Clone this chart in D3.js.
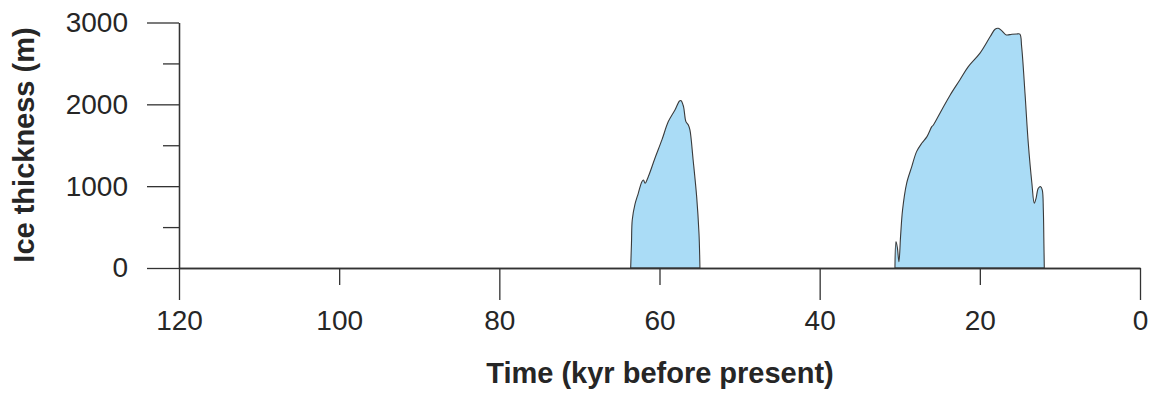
<!DOCTYPE html>
<html>
<head>
<meta charset="utf-8">
<script src="https://cdn.jsdelivr.net/npm/d3@7"></script>
<style>
  body { margin: 0; background: #fff; }
  text { font-family: "Liberation Sans", Arial, sans-serif; fill: #262626; }
</style>
</head>
<body>
<div id="chart"></div>
<script>
const width = 1149;
const height = 395;

// first ice advance (kyr BP, ice thickness m)
const advance1Time = [63.6, 63.5, 63.4, 63.06, 62.65, 62.2, 62.0, 61.8, 61.4, 60.57, 59.7, 58.9, 58.07, 57.5, 57.3, 57.0, 56.7, 56.4, 56.2, 55.8, 55.36, 55.07, 54.95];
const advance1Ice = [0, 300, 590, 780, 913, 1055, 1076, 1035, 1116, 1341, 1565, 1789, 1931, 2041, 2045, 1972, 1789, 1748, 1687, 1320, 872, 424, 0];

// second ice advance
const advance2Time = [30.6, 30.47, 30.3, 30.1, 29.9, 29.65, 29.14, 28.5, 27.9, 27.26, 26.6, 26.0, 25.8, 24.76, 23.7, 22.5, 21.44, 19.98, 18.7, 18.1, 17.7, 17.27, 16.7, 16.0, 15.4, 15.0, 14.78, 14.36, 13.95, 13.5, 13.2, 12.98, 12.7, 12.4, 12.2, 12.07, 12.0, 11.95];
const advance2Ice = [0, 322, 250, 77, 383, 709, 1035, 1239, 1422, 1524, 1605, 1727, 1748, 1931, 2115, 2298, 2461, 2625, 2828, 2918, 2930, 2901, 2848, 2857, 2860, 2857, 2705, 2135, 1524, 1035, 791, 852, 974, 994, 953, 709, 302, 0];

const yMajorTicks = [0, 1000, 2000, 3000];
const yMinorTicks = [500, 1500, 2500];
const xMajorTicks = [120, 80, 40, 0];
const xMinorTicks = [100, 60, 20];

const svg = d3.select('#chart')
    .append('svg')
    .attr('width', width)
    .attr('height', height);

const x = d3.scaleLinear().domain([120, 0]).range([179, 1140]);
const y = d3.scaleLinear().domain([0, 3000]).range([268, 22.5]);

// ice areas
const area = d3.area()
    .x(d => x(d[0]))
    .y0(y(0))
    .y1(d => y(d[1]))
    .curve(d3.curveCatmullRom.alpha(0.5));

[[advance1Time, advance1Ice], [advance2Time, advance2Ice]].forEach(([t, v]) => {
    const pts = t.map((d, i) => [d, v[i]]);
    svg.append('path')
        .datum(pts)
        .attr('d', area)
        .attr('fill', '#aadcf6')
        .attr('stroke', '#3a3a3a')
        .attr('stroke-width', 1.1);
});

// y axis
const yAxisG = svg.append('g').attr('transform', `translate(${x(120)},0)`);
yAxisG.call(d3.axisLeft(y).tickValues(yMajorTicks).tickSize(32).tickSizeOuter(0).tickPadding(19).tickFormat(d3.format('d')));
yAxisG.append('g').call(d3.axisLeft(y).tickValues(yMinorTicks).tickSize(16).tickSizeOuter(0).tickFormat(''));

// x axis
const xAxisG = svg.append('g').attr('transform', `translate(0,${y(0)})`);
xAxisG.call(d3.axisBottom(x).tickValues(xMajorTicks).tickSize(32).tickSizeOuter(0).tickFormat(d3.format('d')));
xAxisG.append('g').call(d3.axisBottom(x).tickValues(xMinorTicks).tickSize(17).tickSizeOuter(0).tickFormat(d3.format('d')));
xAxisG.selectAll('text').attr('y', 62).attr('dy', 0);

svg.selectAll('.domain, .tick line')
    .attr('stroke', '#333')
    .attr('stroke-width', 1.3);
svg.selectAll('.tick text')
    .attr('font-size', 28)
    .attr('font-family', '"Liberation Sans", Arial, sans-serif')
    .attr('fill', '#262626');

// axis titles
svg.append('text')
    .attr('transform', 'translate(34,145) rotate(-90)')
    .attr('text-anchor', 'middle')
    .attr('font-size', 29)
    .attr('font-weight', 'bold')
    .text('Ice thickness (m)');

svg.append('text')
    .attr('x', 660)
    .attr('y', 383)
    .attr('text-anchor', 'middle')
    .attr('font-size', 29)
    .attr('font-weight', 'bold')
    .text('Time (kyr before present)');
</script>
</body>
</html>
